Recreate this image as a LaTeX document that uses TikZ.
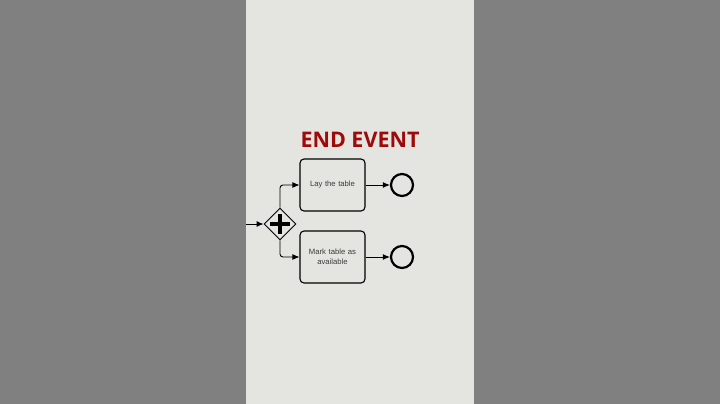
\documentclass[tikz,border=0pt]{standalone}
\usepackage{fontspec}
\setmainfont{Liberation Sans}
\newfontfamily\titlefont{Open Sans}
\usetikzlibrary{arrows.meta}
\usetikzlibrary{shapes.geometric}

\definecolor{sidegrey}{HTML}{808080}
\definecolor{panel}{HTML}{E4E5E0}
\definecolor{titlered}{HTML}{9E0A0A}
\definecolor{textgrey}{HTML}{3A3A3A}

\tikzset{
  task/.style={draw, rounded corners=4pt, line width=1.1pt, minimum width=65pt,
    minimum height=52pt, align=center, text width=58pt, font=\fontsize{7.7}{10}\selectfont,
    text=textgrey},
  endevent/.style={draw, circle, line width=2.2pt, minimum size=22pt, inner sep=0pt},
  gateway/.style={draw, diamond, line width=0.9pt, minimum size=32pt, inner sep=0pt},
  flow/.style={-{Latex[length=7pt,width=6pt]}, line width=0.9pt}
}

\begin{document}
\begin{tikzpicture}[x=1pt,y=-1pt]

\useasboundingbox (0,0) rectangle (720,404);
\fill[sidegrey] (0,0) rectangle (720,404);
\fill[panel] (246,0) rectangle (474,404);

\node[text=titlered, font=\titlefont\bfseries\fontsize{21.5}{24}\selectfont] (title) at (360,140)%
{END EVENT};

\node[gateway] (gate) at (280,224) {};
\draw[line width=3.6pt] (gate.center) ++(-10,0) -- ++(20,0);
\draw[line width=3.6pt] (gate.center) ++(0,-10) -- ++(0,20);

\node[task] (lay) at (332.5,185) {Lay the table};
\node[task] (mark) at (332.5,257) {Mark table as\\available};

\node[endevent] (endA) at (402,185) {};
\node[endevent] (endB) at (402,257) {};

\coordinate (in) at (246,224);
\draw[flow] (in) -- (gate.west);
\draw[flow, rounded corners=3pt] (gate.north) |- (lay.west);
\draw[flow, rounded corners=3pt] (gate.south) |- (mark.west);

\foreach \From/\To in {lay/endA, mark/endB}{
    \draw[flow] (\From.east) -- (\To.west);
}

\end{tikzpicture}
\end{document}
